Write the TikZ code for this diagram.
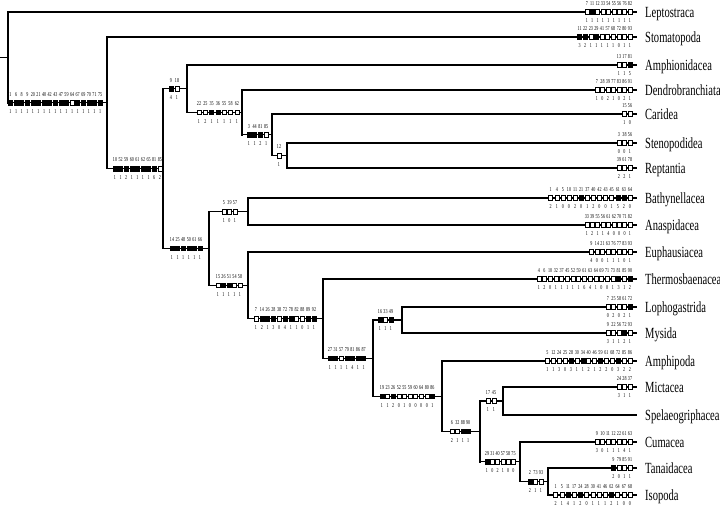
\documentclass[tikz,border=0pt]{standalone}
\usepackage{fontspec}
\setmainfont{Liberation Serif}[FakeStretch=0.68]
\colorlet{w}{white}
\colorlet{b}{black}
\tikzset{
  hl/.style={line width=1.1pt},
  vl/.style={line width=1.7pt, line cap=rect},
  chbox/.style={draw, line width=0.5pt, minimum width=4pt, minimum height=4.6pt, inner sep=0pt, fill=#1},
  num/.style={inner sep=0pt, font=\fontsize{6}{6}\selectfont},
  taxon/.style={anchor=base west, inner sep=0pt, font=\fontsize{15.5}{15.5}\selectfont},
}
\newcommand{\charrow}[5]{%
  \foreach \lab/\val/\f [count=\i from 0] in {#5} {
    \pgfmathsetmacro\cx{#2+\i*#3}
    \node[num] (#1-t\i) at (\cx,#4-8.5) {\lab};
    \node[num] (#1-v\i) at (\cx,#4+9) {\val};
    \node[chbox=\f] (#1-b\i) at (\cx,#4) {};
  }}
\newcommand{\cladeedge}[2]{\draw[hl] (#1 |- #2) -- (#2);}
\newcommand{\cladebar}[3]{\draw[vl] (#1 |- #2) -- (#1 |- #3);}
\begin{document}
\begin{tikzpicture}[x=1pt,y=-1pt]
\useasboundingbox (0,0) rectangle (720,506);
% internal nodes
\coordinate (R0) at (0,57.4);
\coordinate (R) at (8,57.4);
\coordinate (Nst) at (107,102.8);
\coordinate (N10) at (163,168.5);
\coordinate (N918) at (187,88.7);
\coordinate (N22) at (242,112.4);
\coordinate (N3) at (272,134.75);
\coordinate (NSR) at (287,155.5);
\coordinate (N14) at (209,248.4);
\coordinate (NBA) at (248,211.5);
\coordinate (N15) at (248,285.3);
\coordinate (N7) at (323,318.5);
\coordinate (N27) at (373,358.1);
\coordinate (NLM) at (402,320);
\coordinate (N19) at (442,396.2);
\coordinate (N6) at (480,431.4);
\coordinate (NMS) at (503,401);
\coordinate (N29) at (520,461.75);
\coordinate (NTI) at (548,481.5);
% leaves
\foreach \n/\y/\t in {Lep/12/Leptostraca, Sto/37/Stomatopoda, Amph/65/Amphionidacea,
  Dend/90/Dendrobranchiata, Car/114/Caridea, Ste/143/Stenopodidea, Rep/168/Reptantia,
  Bat/198/Bathynellacea, Ana/225/Anaspidacea, Eup/252/Euphausiacea, The/279/Thermosbaenacea,
  Lop/307/Lophogastrida, Mys/333/Mysida, Amp/361/Amphipoda, Mic/387/Mictacea,
  Spe/415/Spelaeogriphacea, Cum/442/Cumacea, Tan/468/Tanaidacea, Iso/495/Isopoda} {
  \coordinate (\n) at (637,\y);
  \node[taxon] (t\n) at (645,\y+5) {\t};
}
% verticals
\cladebar{R}{Lep}{Nst}
\cladebar{Nst}{Sto}{N10}
\cladebar{N10}{N918}{N14}
\cladebar{N918}{Amph}{N22}
\cladebar{N22}{Dend}{N3}
\cladebar{N3}{Car}{NSR}
\cladebar{NSR}{Ste}{Rep}
\cladebar{N14}{NBA}{N15}
\cladebar{NBA}{Bat}{Ana}
\cladebar{N15}{Eup}{N7}
\cladebar{N7}{The}{N27}
\cladebar{N27}{NLM}{N19}
\cladebar{NLM}{Lop}{Mys}
\cladebar{N19}{Amp}{N6}
\cladebar{N6}{NMS}{N29}
\cladebar{NMS}{Mic}{Spe}
\cladebar{N29}{Cum}{NTI}
\cladebar{NTI}{Tan}{Iso}
% horizontals
\draw[hl] (R0) -- (R);
\cladeedge{R}{Lep}\cladeedge{R}{Nst}
\cladeedge{Nst}{Sto}\cladeedge{Nst}{N10}
\cladeedge{N10}{N918}\cladeedge{N10}{N14}
\cladeedge{N918}{Amph}\cladeedge{N918}{N22}
\cladeedge{N22}{Dend}\cladeedge{N22}{N3}
\cladeedge{N3}{Car}\cladeedge{N3}{NSR}
\cladeedge{NSR}{Ste}\cladeedge{NSR}{Rep}
\cladeedge{N14}{NBA}\cladeedge{N14}{N15}
\cladeedge{NBA}{Bat}\cladeedge{NBA}{Ana}
\cladeedge{N15}{Eup}\cladeedge{N15}{N7}
\cladeedge{N7}{The}\cladeedge{N7}{N27}
\cladeedge{N27}{NLM}\cladeedge{N27}{N19}
\cladeedge{NLM}{Lop}\cladeedge{NLM}{Mys}
\cladeedge{N19}{Amp}\cladeedge{N19}{N6}
\cladeedge{N6}{NMS}\cladeedge{N6}{N29}
\cladeedge{NMS}{Mic}\cladeedge{NMS}{Spe}
\cladeedge{N29}{Cum}\cladeedge{N29}{NTI}
\cladeedge{NTI}{Tan}\cladeedge{NTI}{Iso}
% character rows
\charrow{cR}{10.5}{5.6}{102.8}{1/1/b,6/1/b,8/1/b,9/1/b,20/1/b,21/1/b,40/1/b,42/1/b,43/1/b,47/1/b,59/1/b,64/1/w,67/1/b,69/1/b,70/1/b,71/1/b,75/1/b}
\charrow{cLep}{586.8}{5.4}{12}{7/1/w,11/1/b,12/1/w,33/1/w,54/1/w,55/1/w,56/1/w,76/1/w,82/1/w}
\charrow{cSto}{579.6}{5.6}{37}{11/3/b,22/2/b,23/1/w,29/1/b,41/1/w,57/1/w,68/1/w,72/0/w,80/1/w,93/1/w}
\charrow{cN10}{115}{5.6}{168.5}{10/1/b,52/1/b,59/2/b,60/1/b,61/1/b,62/1/b,65/1/b,81/6/b,85/2/w}
\charrow{cN918}{171}{6}{88.7}{9/4/b,18/1/w}
\charrow{cAmph}{619}{5.5}{65}{13/1/w,17/1/w,81/5/b}
\charrow{cN22}{199}{6.3}{112.4}{22/1/w,25/2/w,35/1/b,36/1/b,55/1/w,58/1/w,62/1/w}
\charrow{cDend}{597}{5.5}{90}{7/1/w,28/0/w,39/2/w,77/1/w,83/0/w,86/2/w,91/1/w}
\charrow{cN3}{249}{5.7}{134.75}{3/1/b,44/1/b,81/2/b,85/1/w}
\charrow{cCar}{624.5}{5.5}{114}{15/1/w,56/0/w}
\charrow{cNSR}{279}{5.5}{155.5}{12/1/w}
\charrow{cSte}{619}{5.5}{143}{3/0/w,38/0/w,56/1/w}
\charrow{cRep}{619}{5.5}{168}{39/2/w,61/2/w,78/1/w}
\charrow{cN14}{172}{5.6}{248.4}{14/1/b,25/1/b,48/1/b,50/1/b,61/1/b,66/1/b}
\charrow{cNBA}{224}{5.5}{211.5}{5/1/w,39/0/w,57/1/w}
\charrow{cBat}{550.7}{6.1}{198}{1/2/w,4/1/w,5/0/w,10/0/w,11/2/w,21/0/b,37/1/w,40/2/w,42/0/w,43/0/w,45/1/w,61/5/b,63/2/b,64/0/w}
\charrow{cAna}{586.8}{5.4}{225}{33/1/w,39/2/w,55/1/w,56/1/w,61/4/w,62/0/w,70/0/w,71/0/w,82/1/w}
\charrow{cN15}{218}{5.5}{285.3}{15/1/w,26/1/b,51/1/b,54/1/w,58/1/w}
\charrow{cEup}{591.5}{5.5}{252}{9/4/w,14/0/w,21/0/w,63/1/w,76/1/w,77/1/w,83/0/w,93/1/w}
\charrow{cN7}{256}{5.8}{318.5}{7/1/w,14/2/b,26/1/b,28/3/b,38/0/w,72/4/b,78/1/b,82/1/w,88/0/w,89/1/b,92/1/b}
\charrow{cThe}{538.8}{5.7}{279}{4/1/w,6/2/w,10/0/w,32/1/w,37/1/w,45/1/w,52/1/w,59/1/w,61/6/w,63/4/w,64/1/w,69/0/w,71/0/w,73/1/w,81/3/b,85/1/w,90/2/b}
\charrow{cN27}{330}{5.6}{358.1}{27/1/b,31/1/b,57/1/w,79/1/b,81/4/b,86/1/b,87/1/b}
\charrow{cNLM}{380}{5.5}{320}{16/1/b,33/1/w,49/1/b}
\charrow{cLop}{608}{5.5}{307}{7/0/w,25/2/w,58/0/w,61/2/w,72/1/b}
\charrow{cMys}{608}{5.5}{333}{9/3/w,22/1/w,56/1/w,72/2/b,93/1/w}
\charrow{cN19}{382}{5.6}{396.2}{19/1/b,23/1/w,26/2/b,52/0/w,55/1/w,59/0/w,60/0/w,64/0/w,80/0/w,86/1/b}
\charrow{cAmp}{547.4}{5.9}{361}{5/1/w,12/1/w,24/3/w,25/0/w,28/3/b,30/1/w,34/1/b,40/2/w,46/1/w,59/2/b,61/2/w,68/0/w,72/3/b,85/2/w,86/2/w}
\charrow{cN6}{452}{5.4}{431.4}{6/2/w,32/1/w,88/1/b,90/1/b}
\charrow{cNMS}{488}{6}{401}{17/1/w,45/1/w}
\charrow{cMic}{619}{5.5}{387}{24/3/w,28/1/w,37/1/w}
\charrow{cN29}{487}{5.3}{461.75}{29/1/b,31/0/w,40/2/w,57/1/w,58/0/w,75/0/w}
\charrow{cCum}{597}{5.5}{442}{9/3/w,10/0/w,11/1/w,12/1/w,22/1/w,61/4/w,63/1/w}
\charrow{cNTI}{530}{5.5}{481.5}{2/2/b,73/1/w,93/1/w}
\charrow{cTan}{613.5}{5.5}{468}{9/2/b,79/0/w,85/1/w,91/1/w}
\charrow{cIso}{555.6}{6.2}{495}{1/2/w,5/1/w,11/4/b,17/1/w,24/2/b,28/0/w,30/1/w,41/1/w,46/1/w,62/2/b,64/1/w,67/0/w,68/0/w}
\end{tikzpicture}
\end{document}
